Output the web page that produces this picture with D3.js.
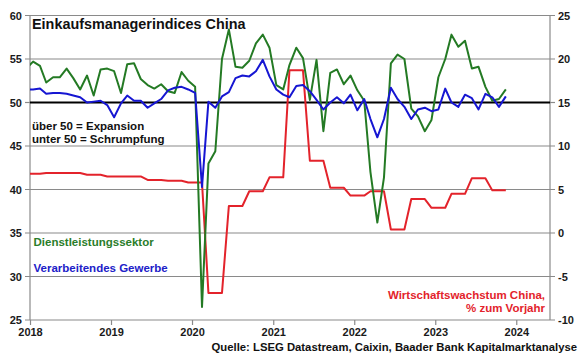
<!DOCTYPE html>
<html>
<head>
<meta charset="utf-8">
<script src="https://cdn.jsdelivr.net/npm/d3@7"></script>
<style>
html,body{margin:0;padding:0;background:#fff;}
svg{display:block;font-family:"Liberation Sans",Arial,sans-serif;font-weight:bold;}
</style>
</head>
<body>
<svg id="chart" width="580" height="359"></svg>
<script>
// Monthly series, first month = December 2017, last = November 2023
const firstMonth = "2017-12";
const services = [53.9,
  54.7,54.2,52.3,52.9,52.9,53.9,52.8,51.5,53.1,50.8,53.8,53.9,
  53.6,51.1,54.4,54.5,52.7,52.0,51.6,52.1,51.3,51.1,53.5,52.5,
  51.8,26.5,43.0,44.4,55.0,58.4,54.1,54.0,54.8,56.8,57.8,56.3,
  52.0,51.5,54.3,56.3,55.1,50.3,54.9,46.7,53.4,53.8,52.1,53.1,
  51.4,50.2,42.0,36.2,41.4,54.5,55.5,55.0,49.3,48.4,46.7,48.0,
  52.9,55.0,57.8,56.4,57.1,53.9,54.1,51.8,50.2,50.4,51.5];
const manufacturing = [51.5,
  51.5,51.6,51.0,51.1,51.1,51.0,50.8,50.6,50.0,50.1,50.2,49.7,
  48.3,49.9,50.8,50.2,50.2,49.4,49.9,50.4,51.4,51.7,51.8,51.5,
  51.1,40.3,50.1,49.4,50.7,51.2,52.8,53.1,53.0,53.6,54.9,53.0,
  51.5,50.9,50.6,51.9,52.0,51.3,50.3,49.2,50.0,50.6,49.9,50.9,
  49.1,50.4,48.1,46.0,48.1,51.7,50.4,49.5,48.1,49.2,49.4,49.0,
  49.2,51.6,50.0,49.5,50.9,50.5,49.2,51.0,50.6,49.5,50.7];
// GDP growth y/y (right axis), quarterly value shown for three months
const gdp = [6.8,
  6.8,6.8,6.9,6.9,6.9,6.9,6.9,6.9,6.7,6.7,6.7,6.5,
  6.5,6.5,6.5,6.5,6.5,6.1,6.1,6.1,6.0,6.0,6.0,5.8,
  5.8,5.8,-6.9,-6.9,-6.9,3.1,3.1,3.1,4.8,4.8,4.8,6.4,
  6.4,6.4,18.7,18.7,18.7,8.3,8.3,8.3,5.2,5.2,5.2,4.3,
  4.3,4.3,4.8,4.8,4.8,0.4,0.4,0.4,3.9,3.9,3.9,2.9,
  2.9,2.9,4.5,4.5,4.5,6.3,6.3,6.3,4.9,4.9,4.9];
const leftTicks = [25,30,35,40,45,50,55,60];
const rightTicks = [-10,-5,0,5,10,15,20,25];
const yearTicks = [2018,2019,2020,2021,2022,2023,2024];

const svg = d3.select("#chart");
const L = 30, R = 550, T = 15.5, B = 320;

const start = d3.timeParse("%Y-%m")(firstMonth);
const dates = services.map((d,i) => { const m = d3.timeMonth.offset(start, i); return new Date(m.getFullYear(), m.getMonth(), 15); });

const x = d3.scaleTime().domain([new Date(2018,0,1), new Date(2024,5,1)]).range([L, R]);
const yL = d3.scaleLinear().domain([25,60]).range([B, T]);
const yR = d3.scaleLinear().domain([-10,25]).range([B, T]);

svg.append("defs").append("clipPath").attr("id","clip")
  .append("rect").attr("x",L).attr("y",0).attr("width",R-L).attr("height",359);

// gridlines with outer ticks
const grid = svg.append("g");
leftTicks.forEach(v => {
  if (v === 50) return;
  grid.append("line").attr("x1",L-5).attr("x2",R+5).attr("y1",yL(v)).attr("y2",yL(v))
    .attr("stroke","#8a8a8a").attr("stroke-width",1.2);
});
// axes lines
grid.append("line").attr("x1",L).attr("x2",L).attr("y1",T).attr("y2",B).attr("stroke","#8a8a8a").attr("stroke-width",1.2);
grid.append("line").attr("x1",R).attr("x2",R).attr("y1",T).attr("y2",B).attr("stroke","#8a8a8a").attr("stroke-width",1.2);
grid.append("line").attr("x1",L-5).attr("x2",L).attr("y1",yL(50)).attr("y2",yL(50)).attr("stroke","#8a8a8a").attr("stroke-width",1.2);
grid.append("line").attr("x1",R).attr("x2",R+5).attr("y1",yL(50)).attr("y2",yL(50)).attr("stroke","#8a8a8a").attr("stroke-width",1.2);

// bottom axis
const xAxis = d3.axisBottom(x).tickValues(yearTicks.map(y => new Date(y,0,1)))
  .tickFormat(d3.timeFormat("%Y")).tickSize(5).tickSizeOuter(0);
const gx = svg.append("g").attr("transform",`translate(0,${B})`).call(xAxis);
gx.select(".domain").remove();
gx.selectAll(".tick line").attr("stroke","#8a8a8a").attr("stroke-width",1.2);
gx.selectAll(".tick text").attr("font-size","11px").attr("font-family","Liberation Sans, Arial, sans-serif")
  .attr("font-weight","bold").attr("fill","#1a1a1a").attr("dy","0.75em").attr("y",8);

// left/right labels
const gl = svg.append("g").attr("transform",`translate(${L},0)`)
  .call(d3.axisLeft(yL).tickValues(leftTicks).tickSize(0).tickPadding(8));
gl.select(".domain").remove();
gl.selectAll(".tick text").attr("font-size","11px").attr("font-family","Liberation Sans, Arial, sans-serif")
  .attr("font-weight","bold").attr("fill","#1a1a1a");
const gr = svg.append("g").attr("transform",`translate(${R},0)`)
  .call(d3.axisRight(yR).tickValues(rightTicks).tickSize(0).tickPadding(8).tickFormat(d => d < 0 ? "-" + Math.abs(d) : d));
gr.select(".domain").remove();
gr.selectAll(".tick text").attr("font-size","11px").attr("font-family","Liberation Sans, Arial, sans-serif")
  .attr("font-weight","bold").attr("fill","#1a1a1a");

// 50 line
svg.append("line").attr("x1",L).attr("x2",R).attr("y1",yL(50)).attr("y2",yL(50))
  .attr("stroke","#000").attr("stroke-width",2);

const plot = svg.append("g").attr("clip-path","url(#clip)");
const lineL = arr => d3.line().x((d,i) => x(dates[i])).y(d => yL(d))(arr);
const lineR = arr => d3.line().x((d,i) => x(dates[i])).y(d => yR(d))(arr);

plot.append("path").attr("d", lineR(gdp)).attr("fill","none").attr("stroke","#e3232b").attr("stroke-width",2).attr("stroke-linejoin","round");
plot.append("path").attr("d", lineL(services)).attr("fill","none").attr("stroke","#247a24").attr("stroke-width",2).attr("stroke-linejoin","round");
plot.append("path").attr("d", lineL(manufacturing)).attr("fill","none").attr("stroke","#1616d2").attr("stroke-width",2).attr("stroke-linejoin","round");

// texts
const txt = (s, xx, yy, size, color, anchor) => svg.append("text").attr("x",xx).attr("y",yy)
  .attr("font-size",size).attr("fill",color).attr("text-anchor",anchor||"start").text(s);
txt("Einkaufsmanagerindices China", 32, 28.5, "14.4px", "#111");
txt("über 50 = Expansion", 32, 129.5, "11.5px", "#111");
txt("unter 50 = Schrumpfung", 32, 142.7, "11.5px", "#111");
txt("Dienstleistungssektor", 33.5, 245.7, "11.5px", "#2a7d2a");
txt("Verarbeitendes Gewerbe", 33.5, 272, "11.5px", "#2020c8");
txt("Wirtschaftswachstum China,", 545, 299, "11.5px", "#e3232b", "end");
txt("% zum Vorjahr", 545, 311.5, "11.5px", "#e3232b", "end");
txt("Quelle: LSEG Datastream, Caixin, Baader Bank Kapitalmarktanalyse", 577, 351, "11.3px", "#111", "end");
</script>
</body>
</html>
